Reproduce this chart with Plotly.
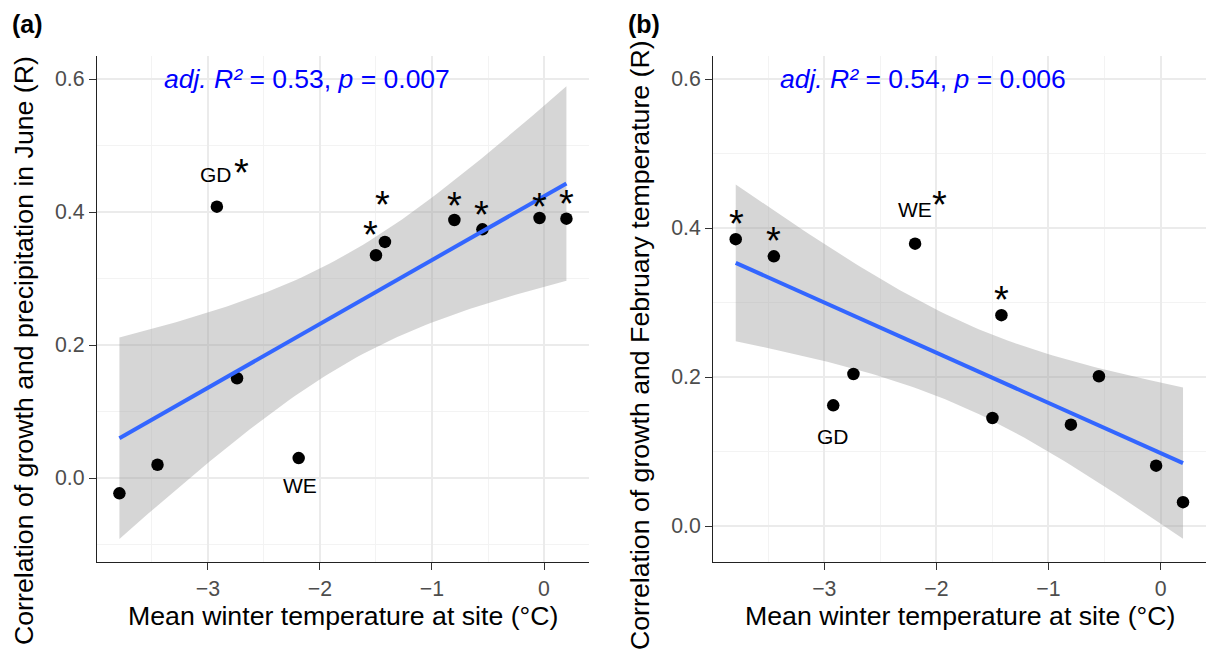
import numpy as np
import plotly.graph_objects as go

# ---------------- data ----------------
winter_temp = [-3.79, -3.45, -2.92, -2.74, -2.19, -1.50, -1.42, -0.80, -0.55, -0.04, 0.20]
r_june_precip = [-0.023, 0.020, 0.408, 0.150, 0.030, 0.335, 0.355, 0.388, 0.374, 0.391, 0.390]
r_feb_temp = [0.385, 0.362, 0.162, 0.204, 0.379, 0.145, 0.283, 0.136, 0.201, 0.081, 0.032]

# site labels
labels_a = ["GD", "WE"]
labels_a_x = [-2.924, -2.18]
labels_a_y = [0.457, -0.012]
labels_b = ["WE", "GD"]
labels_b_x = [-2.189, -2.925]
labels_b_y = [0.425, 0.120]

# significance asterisks (ink centres)
star_a_x = [-2.702, -1.549, -1.44, -0.797, -0.557, -0.044, 0.205]
star_a_y = [0.471, 0.377, 0.422, 0.421, 0.407, 0.420, 0.424]
star_b_x = [-3.787, -3.449, -1.975, -1.42]
star_b_y = [0.416, 0.393, 0.442, 0.314]

stat_text_a = "<i>adj. R²</i> = 0.53, <i>p</i> = 0.007"
stat_text_b = "<i>adj. R²</i> = 0.54, <i>p</i> = 0.006"
stat_x = -2.12
stat_y = 0.6

x_title = "Mean winter temperature at site (°C)"
y_title_a = "Correlation of growth and precipitation in June (R)"
y_title_b = "Correlation of growth and February temperature (R)"

FONT = "Liberation Sans, Arial, sans-serif"
W, H = 1206, 653


def lm_band(x, y, n=80, tval=2.262157):
    x = np.asarray(x, float)
    y = np.asarray(y, float)
    slope, intercept = np.polyfit(x, y, 1)
    xs = np.linspace(x.min(), x.max(), n)
    fit = intercept + slope * xs
    resid = y - (intercept + slope * x)
    s2 = np.sum(resid ** 2) / (len(x) - 2)
    sxx = np.sum((x - x.mean()) ** 2)
    se = np.sqrt(s2 * (1.0 / len(x) + (xs - x.mean()) ** 2 / sxx))
    return xs, fit, fit - tval * se, fit + tval * se


fig = go.Figure()

panels = [
    ("x", "y", r_june_precip, labels_a, labels_a_x, labels_a_y, star_a_x, star_a_y, stat_text_a),
    ("x2", "y2", r_feb_temp, labels_b, labels_b_x, labels_b_y, star_b_x, star_b_y, stat_text_b),
]

annotations = []
for xa, ya, yv, lab, lx, ly, sx, sy, stat in panels:
    xs, fit, lo, hi = lm_band(winter_temp, yv)
    fig.add_trace(go.Scatter(
        x=list(xs) + list(xs[::-1]), y=list(hi) + list(lo[::-1]),
        fill="toself", fillcolor="rgba(153,153,153,0.4)", line=dict(width=0),
        mode="lines", hoverinfo="skip", showlegend=False, xaxis=xa, yaxis=ya))
    fig.add_trace(go.Scatter(
        x=winter_temp, y=yv, mode="markers",
        marker=dict(color="black", size=12.5, line=dict(width=0)),
        showlegend=False, xaxis=xa, yaxis=ya))
    fig.add_trace(go.Scatter(
        x=xs, y=fit, mode="lines", line=dict(color="#3366FF", width=4),
        showlegend=False, xaxis=xa, yaxis=ya))
    for t, x0, y0 in zip(lab, lx, ly):
        annotations.append(dict(x=x0, y=y0, xref=xa, yref=ya, text=t, showarrow=False,
                                xanchor="center", yanchor="middle",
                                font=dict(family=FONT, size=21, color="black")))
    for x0, y0 in zip(sx, sy):
        annotations.append(dict(x=x0, y=y0, xref=xa, yref=ya, text="*", showarrow=False,
                                xanchor="center", yanchor="middle", yshift=-8,
                                font=dict(family=FONT, size=38, color="black")))
    annotations.append(dict(x=stat_x, y=stat_y, xref=xa, yref=ya, text=stat, showarrow=False,
                            xanchor="center", yanchor="middle",
                            font=dict(family=FONT, size=26.5, color="#0000FF")))

# axis titles and panel tags
annotations += [
    dict(x=343 / W, y=1 - 616 / H, xref="paper", yref="paper", text=x_title, showarrow=False,
         xanchor="center", yanchor="middle", font=dict(family=FONT, size=26.7, color="black")),
    dict(x=960 / W, y=1 - 616 / H, xref="paper", yref="paper", text=x_title, showarrow=False,
         xanchor="center", yanchor="middle", font=dict(family=FONT, size=26.7, color="black")),
    dict(x=24 / W, y=1 - 351 / H, xref="paper", yref="paper", text=y_title_a, showarrow=False,
         textangle=-90, xanchor="center", yanchor="middle",
         font=dict(family=FONT, size=26.7, color="black")),
    dict(x=640 / W, y=1 - 345 / H, xref="paper", yref="paper", text=y_title_b, showarrow=False,
         textangle=-90, xanchor="center", yanchor="middle",
         font=dict(family=FONT, size=26.7, color="black")),
    dict(x=10 / W, y=1 - 24 / H, xref="paper", yref="paper", text="<b>(a)</b>", showarrow=False,
         xanchor="left", yanchor="middle", font=dict(family=FONT, size=25, color="black")),
    dict(x=626 / W, y=1 - 24 / H, xref="paper", yref="paper", text="<b>(b)</b>", showarrow=False,
         xanchor="left", yanchor="middle", font=dict(family=FONT, size=25, color="black")),
]

ydom = [(H - 562) / H, (H - 56) / H]


def xaxis(dom):
    return dict(domain=dom, range=[-3.99, 0.405], dtick=1, tick0=0,
                showgrid=True, gridcolor="#EBEBEB", gridwidth=1.6,
                minor=dict(dtick=0.5, tick0=0, showgrid=True, gridcolor="#F3F3F3", gridwidth=0.9, ticklen=0),
                zeroline=False, showline=True, linecolor="#222222", linewidth=1.4,
                ticks="outside", ticklen=7, tickwidth=1.4, tickcolor="#333333",
                tickfont=dict(family=FONT, size=21.3, color="#4D4D4D"), fixedrange=True)


def yaxis(rng, anchor):
    return dict(domain=ydom, range=rng, dtick=0.2, tick0=0, tickformat=".1f", anchor=anchor,
                showgrid=True, gridcolor="#EBEBEB", gridwidth=1.6,
                minor=dict(dtick=0.1, tick0=0, showgrid=True, gridcolor="#F3F3F3", gridwidth=0.9, ticklen=0),
                zeroline=False, showline=True, linecolor="#222222", linewidth=1.4,
                ticks="outside", ticklen=7, tickwidth=1.4, tickcolor="#333333",
                tickfont=dict(family=FONT, size=21.3, color="#4D4D4D"), fixedrange=True)


fig.update_layout(
    width=W, height=H,
    margin=dict(l=0, r=0, t=0, b=0),
    paper_bgcolor="white", plot_bgcolor="white",
    showlegend=False,
    xaxis=dict(xaxis([97 / W, 589.4 / W]), anchor="y"),
    yaxis=yaxis([-0.1263, 0.6346], "x"),
    xaxis2=dict(xaxis([713.3 / W, 1.0]), anchor="y2"),
    yaxis2=yaxis([-0.0483, 0.6309], "x2"),
    annotations=annotations,
)

fig.write_html("out.html", config={"displayModeBar": False},
               post_script="document.body.style.margin='0';document.body.style.overflow='hidden';")
